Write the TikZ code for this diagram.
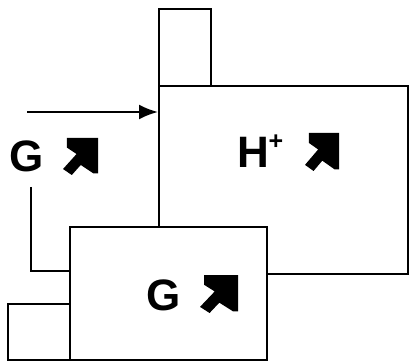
\documentclass[tikz,border=0pt]{standalone}
\usepackage{fontspec}
\setmainfont{Liberation Sans}
\usetikzlibrary{arrows.meta}
\tikzset{
  box/.style={draw, line width=2.2pt, fill=white, inner sep=0pt, anchor=north west},
  lbl/.style={inner sep=0pt, font=\fontsize{44}{48}\selectfont\bfseries},
  sup/.style={inner sep=0pt, font=\fontsize{25}{26}\selectfont\bfseries},
  conn/.style={line width=2.2pt},
  bigarrow/.pic={
    \fill[black] (1,0) -- (0.111,0) -- (0.111,0.259) -- (0.387,0.433) -- (0,0.839)
      -- (0.252,1) -- (0.508,0.728) -- (0.873,0.959) -- (1,0.959) -- cycle;
  }
}
\begin{document}
\begin{tikzpicture}[x=1pt,y=-1pt]
\useasboundingbox (0,0) rectangle (409,363);
\node[box, minimum width=52pt, minimum height=77pt] (top) at (158,8) {};
\node[box, minimum width=249pt, minimum height=188pt] (hbox) at (158,85) {};
\node[box, minimum width=197pt, minimum height=133pt] (gbox) at (69,226) {};
\node[box, minimum width=62pt, minimum height=56pt] (small) at (7,303) {};
\node[lbl] (gleft) at (27,156) {G};
\node[lbl, anchor=west] (hplus) at (237,152) {H};
\node[sup] (plus) at (276,142) {+};
\node[lbl] (gbot) at (164,295) {G};
\pic[xscale=35, yscale=37] at (63,138) {bigarrow};
\pic[xscale=34, yscale=38] at (305,133) {bigarrow};
\pic[xscale=38, yscale=38] at (200,275) {bigarrow};
\coordinate (astart) at (27,112);
\draw[conn, -{Latex[length=19pt,width=15pt]}] (astart) -- (astart -| hbox.west);
\coordinate (lstart) at (31,187);
\draw[conn] (lstart) -- (lstart |- 0,271) -- (gbox.west |- 0,271);
\end{tikzpicture}
\end{document}
